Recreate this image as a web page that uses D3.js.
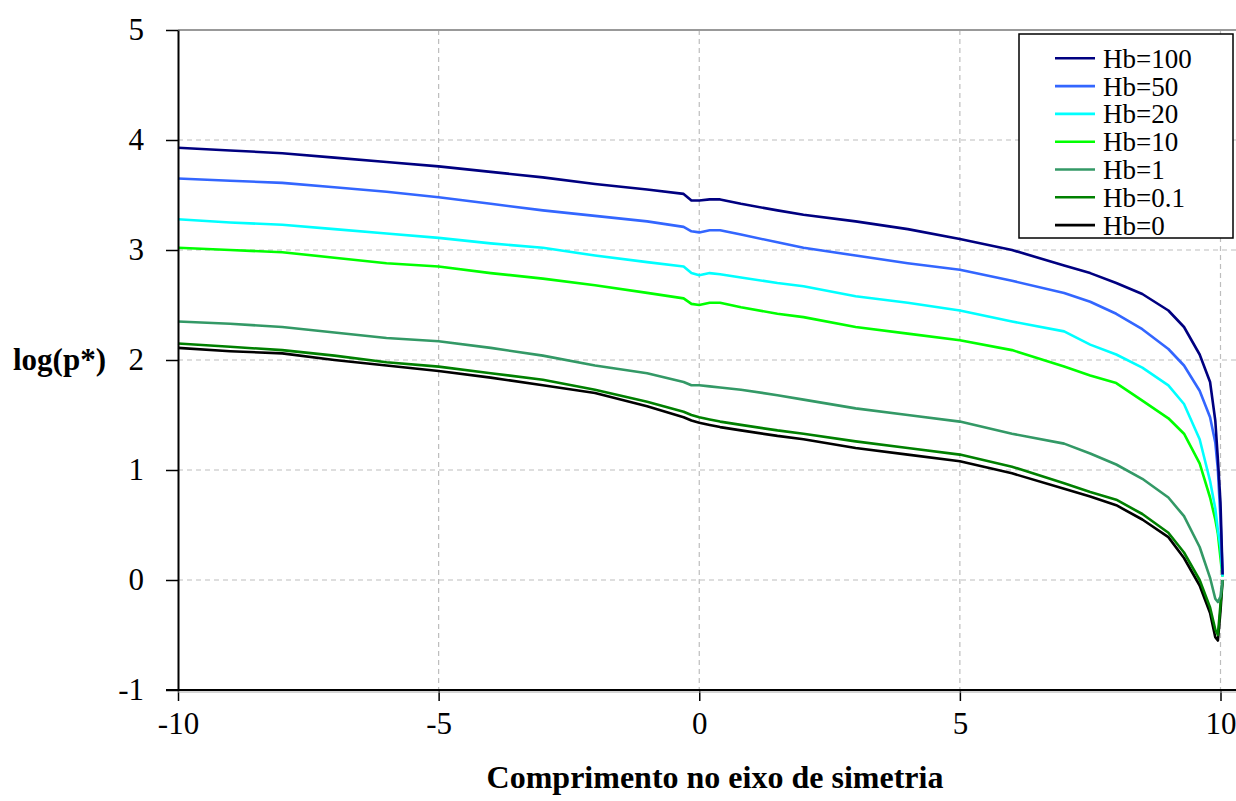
<!DOCTYPE html>
<html>
<head>
<meta charset="utf-8">
<script src="https://cdn.jsdelivr.net/npm/d3@7"></script>
<style>
  html, body { margin: 0; padding: 0; background: #fff; }
  svg { display: block; }
  text { font-family: "Liberation Serif", "DejaVu Serif", serif; fill: #000; }
</style>
</head>
<body>
<div id="chart"></div>
<script>
// position along the symmetry axis
const xPos = [-10, -9, -8, -7, -6, -5, -4, -3, -2, -1, -0.3, -0.15, 0, 0.2, 0.4, 0.8, 1.5, 2, 3, 4, 5, 6, 7, 7.5, 8, 8.5, 9, 9.3, 9.6, 9.8, 9.9, 9.95, 10, 10.04];

const hb100 = [3.93, 3.905, 3.88, 3.84, 3.80, 3.76, 3.71, 3.66, 3.60, 3.55, 3.51, 3.45, 3.45, 3.46, 3.46, 3.42, 3.36, 3.32, 3.26, 3.19, 3.10, 3.00, 2.86, 2.79, 2.70, 2.60, 2.45, 2.30, 2.05, 1.80, 1.45, 1.10, 0.70, 0.05];
const hb50 = [3.65, 3.63, 3.61, 3.57, 3.53, 3.48, 3.42, 3.36, 3.31, 3.26, 3.21, 3.17, 3.16, 3.18, 3.18, 3.14, 3.07, 3.02, 2.95, 2.88, 2.82, 2.72, 2.61, 2.53, 2.42, 2.28, 2.10, 1.95, 1.72, 1.48, 1.25, 1.00, 0.55, 0.05];
const hb20 = [3.28, 3.25, 3.23, 3.19, 3.15, 3.11, 3.06, 3.02, 2.95, 2.89, 2.85, 2.79, 2.77, 2.79, 2.78, 2.75, 2.70, 2.67, 2.58, 2.52, 2.45, 2.35, 2.26, 2.14, 2.05, 1.93, 1.77, 1.60, 1.28, 0.90, 0.65, 0.45, 0.30, 0.03];
const hb10 = [3.02, 3.00, 2.98, 2.93, 2.88, 2.85, 2.79, 2.74, 2.68, 2.61, 2.56, 2.51, 2.50, 2.52, 2.52, 2.48, 2.42, 2.39, 2.30, 2.24, 2.18, 2.09, 1.94, 1.86, 1.79, 1.63, 1.47, 1.33, 1.06, 0.75, 0.55, 0.42, 0.20, 0.03];
const hb1 = [2.35, 2.33, 2.30, 2.25, 2.20, 2.17, 2.11, 2.04, 1.95, 1.88, 1.80, 1.77, 1.77, 1.76, 1.75, 1.73, 1.68, 1.64, 1.56, 1.50, 1.44, 1.33, 1.24, 1.15, 1.05, 0.92, 0.75, 0.58, 0.30, 0.02, -0.17, -0.20, -0.15, 0.00];
const hb01 = [2.15, 2.12, 2.09, 2.04, 1.98, 1.94, 1.88, 1.82, 1.73, 1.62, 1.53, 1.50, 1.48, 1.46, 1.44, 1.41, 1.36, 1.33, 1.26, 1.20, 1.14, 1.03, 0.88, 0.80, 0.73, 0.60, 0.43, 0.25, 0.00, -0.25, -0.45, -0.50, -0.22, 0.00];
const hb0 = [2.11, 2.08, 2.06, 2.00, 1.95, 1.90, 1.84, 1.77, 1.70, 1.58, 1.48, 1.45, 1.43, 1.41, 1.39, 1.36, 1.31, 1.28, 1.20, 1.14, 1.08, 0.97, 0.83, 0.76, 0.68, 0.55, 0.39, 0.20, -0.05, -0.30, -0.52, -0.55, -0.28, 0.00];

const seriesNames = ["Hb=100", "Hb=50", "Hb=20", "Hb=10", "Hb=1", "Hb=0.1", "Hb=0"];
const seriesValues = [hb100, hb50, hb20, hb10, hb1, hb01, hb0];
const seriesColors = ["#000080", "#3366ff", "#00ffff", "#00ff00", "#339966", "#008000", "#000000"];

const xTicks = [-10, -5, 0, 5, 10];
const yTicks = [-1, 0, 1, 2, 3, 4, 5];

const width = 1236;
const height = 801;
const plot = { left: 178, top: 30, bottom: 690, xEnd: 1220.5 };

const svg = d3.select("#chart").append("svg")
    .attr("width", width)
    .attr("height", height)
    .attr("viewBox", [0, 0, width, height]);

const x = d3.scaleLinear().domain([-10, 10]).range([plot.left, plot.xEnd]);
const y = d3.scaleLinear().domain([-1, 5]).range([plot.bottom, plot.top]);

// dashed grid
svg.append("g")
    .selectAll("line")
    .data(yTicks.filter((d) => d > -1 && d < 5))
    .join("line")
    .attr("x1", plot.left).attr("x2", width)
    .attr("y1", (d) => y(d)).attr("y2", (d) => y(d))
    .attr("stroke", "#bdbdbd").attr("stroke-width", 1.2)
    .attr("stroke-dasharray", "5,4");

svg.append("g")
    .selectAll("line")
    .data(xTicks.filter((d) => d > -10))
    .join("line")
    .attr("x1", (d) => x(d)).attr("x2", (d) => x(d))
    .attr("y1", plot.top).attr("y2", plot.bottom)
    .attr("stroke", "#bdbdbd").attr("stroke-width", 1.2)
    .attr("stroke-dasharray", "5,4");

// top border
svg.append("line")
    .attr("x1", plot.left).attr("x2", width)
    .attr("y1", plot.top).attr("y2", plot.top)
    .attr("stroke", "#999").attr("stroke-width", 2);

// series
const line = d3.line()
    .x((d) => x(d[0]))
    .y((d) => y(d[1]));

svg.append("g")
    .selectAll("path")
    .data(seriesValues.map((vals, i) => ({ i, pts: xPos.map((xv, j) => [xv, vals[j]]) })).reverse())
    .join("path")
    .attr("fill", "none")
    .attr("stroke", (d) => seriesColors[d.i])
    .attr("stroke-width", 2.6)
    .attr("stroke-linejoin", "round")
    .attr("d", (d) => line(d.pts));

// axes
const yAxis = svg.append("g")
    .attr("transform", `translate(${plot.left},0)`)
    .call(d3.axisLeft(y).tickValues(yTicks).tickFormat((d) => String(d))
        .tickSize(12).tickPadding(22).tickSizeOuter(0));
yAxis.select(".domain").attr("stroke", "#000").attr("stroke-width", 2);
yAxis.selectAll(".tick line").attr("stroke", "#000").attr("stroke-width", 1.5);
yAxis.selectAll(".tick text")
    .attr("font-size", 31)
    .attr("font-family", "Liberation Serif")
    .attr("fill", "#000");

const xAxis = svg.append("g")
    .attr("transform", `translate(0,${plot.bottom})`)
    .call(d3.axisBottom(x).tickValues(xTicks).tickFormat((d) => String(d))
        .tickSize(11).tickPadding(11).tickSizeOuter(0));
xAxis.select(".domain").remove();
xAxis.selectAll(".tick line").attr("stroke", "#000").attr("stroke-width", 1.5);
xAxis.selectAll(".tick text")
    .attr("font-size", 31)
    .attr("font-family", "Liberation Serif")
    .attr("fill", "#000");

svg.append("line")
    .attr("x1", plot.left - 12).attr("x2", width)
    .attr("y1", plot.bottom).attr("y2", plot.bottom)
    .attr("stroke", "#000").attr("stroke-width", 2);
svg.append("line")
    .attr("x1", plot.left).attr("x2", width)
    .attr("y1", plot.bottom + 2).attr("y2", plot.bottom + 2)
    .attr("stroke", "#aaa").attr("stroke-width", 1);

// axis titles
svg.append("text")
    .attr("x", 715).attr("y", 788)
    .attr("text-anchor", "middle")
    .attr("font-size", 32)
    .attr("font-weight", "bold")
    .text("Comprimento no eixo de simetria");

svg.append("text")
    .attr("x", 13).attr("y", y(2) + 10)
    .attr("font-size", 31)
    .attr("font-weight", "bold")
    .text("log(p*)");

// legend
const legend = svg.append("g").attr("transform", "translate(1019,34)");
legend.append("rect")
    .attr("width", 214).attr("height", 204)
    .attr("fill", "#fff").attr("stroke", "#000").attr("stroke-width", 1.5);

const items = legend.selectAll("g")
    .data(seriesNames)
    .join("g")
    .attr("transform", (_, i) => `translate(0, ${24.3 + i * 27.8})`);

items.append("line")
    .attr("x1", 36).attr("x2", 76)
    .attr("stroke", (_, i) => seriesColors[i])
    .attr("stroke-width", 2.6);

items.append("text")
    .attr("x", 84).attr("y", 9.5)
    .attr("font-size", 27)
    .text((d) => d);
</script>
</body>
</html>
